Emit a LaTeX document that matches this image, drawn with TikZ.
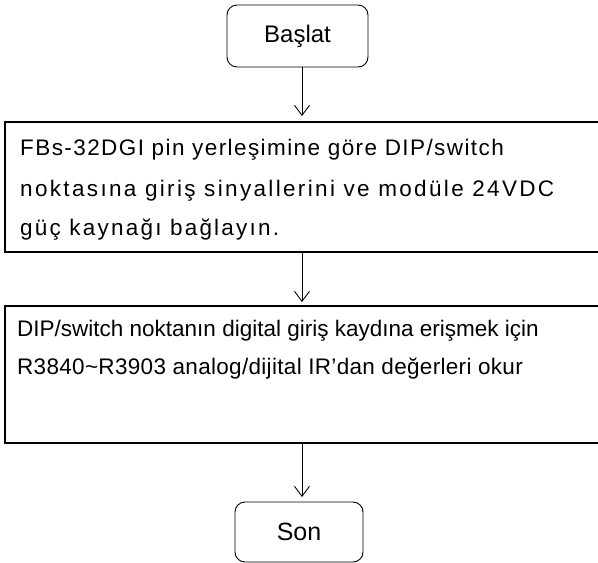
\documentclass[tikz,border=0pt]{standalone}
\usepackage{fontspec}
\setmainfont{Liberation Sans}
\newfontfamily\lsA[LetterSpace=6.3]{Liberation Sans}
\newfontfamily\lsB[LetterSpace=10.4]{Liberation Sans}
\newfontfamily\lsC[LetterSpace=9.9]{Liberation Sans}
\newfontfamily\lsD[LetterSpace=1.4]{Liberation Sans}
\usetikzlibrary{arrows.meta}
\begin{document}
\begin{tikzpicture}[x=1pt,y=-1pt,
  term/.style={draw, rounded corners=10pt, line width=0.9pt, font=\fontsize{24}{28}\selectfont},
  procbox/.style={draw, line width=1.4pt},
  line/.style={anchor=base west, inner sep=0pt, font=\fontsize{22.5}{26}\selectfont},
  flow/.style={draw, line width=0.9pt, -{Straight Barb[length=10pt,width=15pt,line width=0.9pt]}}
]
\useasboundingbox (0,0) rectangle (598,563);
% terminals
\node[term, minimum width=141pt, minimum height=62pt] (start) at (297.5,36) {Başlat};
\node[term, minimum width=128pt, minimum height=60pt, font=\fontsize{25}{28}\selectfont] (end) at (299,532) {Son};
% process boxes (right edge runs off the page)
\draw[procbox] (620,122) -- (5,122) -- (5,252) -- (620,252);
\draw[procbox] (620,306) -- (5,306) -- (5,443) -- (620,443);
\coordinate (b1in) at (302,116);
\coordinate (b1out) at (302,252);
\coordinate (b2in) at (302,302);
\coordinate (b2out) at (302,443);
\coordinate (endin) at (302,497);
\coordinate (startout) at (302,67);
% texts
\node[line] (l11) at (20,155) {\lsA FBs-32DGI pin yerleşimine göre DIP/switch};
\node[line] (l12) at (20,196) {\lsB noktasına giriş sinyallerini ve modüle 24VDC};
\node[line] (l13) at (20,235) {\lsC güç kaynağı bağlayın.};
\node[line] (l21) at (17,336) {DIP/switch noktanın digital giriş kaydına erişmek için};
\node[line] (l22) at (17,374) {\lsD R3840\textasciitilde R3903 analog/dijital IR’dan değerleri okur};
% connectors
\draw[flow] (startout) -- (b1in);
\draw[flow] (b1out) -- (b2in);
\draw[flow] (b2out) -- (endin);
\end{tikzpicture}
\end{document}
